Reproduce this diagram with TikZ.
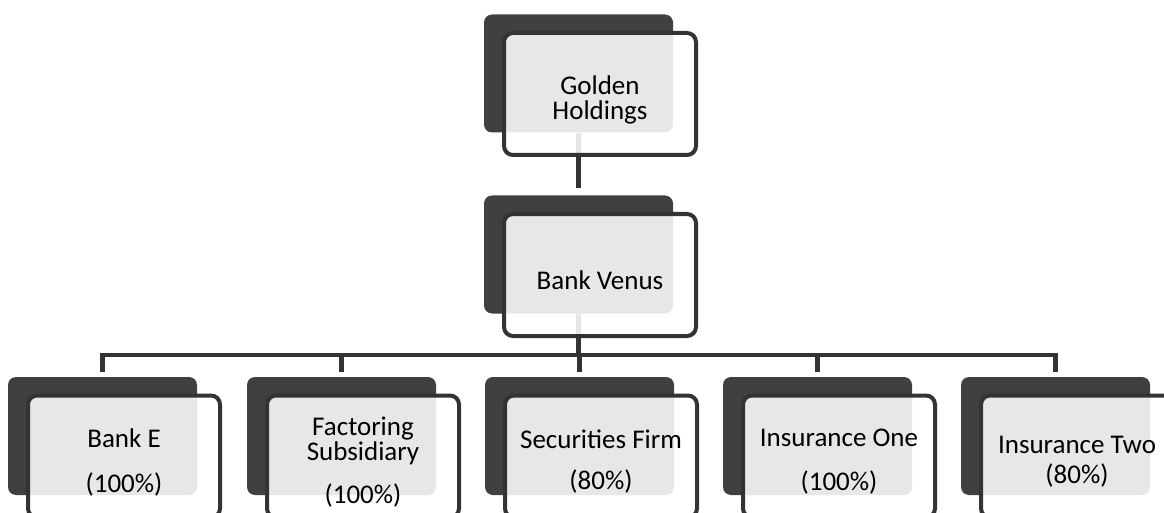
\documentclass[tikz,border=0pt]{standalone}
\usepackage{fontspec}
\setmainfont{Carlito}
\usetikzlibrary{backgrounds}

\definecolor{boxdark}{RGB}{64,64,64}
\definecolor{boxline}{RGB}{51,51,51}

\tikzset{
  backbox/.style={fill=boxdark, rounded corners=8pt, minimum width=189pt, minimum height=118pt, inner sep=0pt},
  frontbox/.style={draw=boxline, line width=4pt, fill=white, fill opacity=0.88,
    rounded corners=9pt, minimum width=192pt, minimum height=122pt, inner sep=0pt},
  unittext/.style={align=center, inner sep=0pt, font=\fontsize{27}{25}\selectfont},
  link/.style={draw=boxline, line width=4.5pt, shorten >=5pt}
}

% one unit: dark card behind, framed card in front, text on top
\newcommand{\orgunit}[4]{%
  \node[backbox]  (#1-back) at (#2,#3) {};
  \node[frontbox] (#1) at ([shift={(21.5,20.5)}]#1-back.center) {};
  \node[unittext] (#1-text) at ([yshift=-5.5pt]#1.center) {#4};}

\begin{document}
\begin{tikzpicture}[x=1pt,y=-1pt]
    \useasboundingbox (0,0) rectangle (1164,513);

    \orgunit{golden}{578.5}{73.5}{Golden\\Holdings}
    \orgunit{venus}{578.5}{254.5}{Bank Venus}

    \orgunit{banke}{102.5}{436}{Bank E\\[20pt](100\%)}
    \orgunit{factoring}{341.5}{436}{Factoring\\Subsidiary\\[18pt](100\%)}
    \orgunit{securities}{579.5}{436}{Securities Firm\\[16pt](80\%)}
    \orgunit{insone}{817.5}{436}{Insurance One\\[19pt](100\%)}
    \orgunit{instwo}{1055.5}{436}{Insurance Two\\[5pt](80\%)}

    \coordinate (bus) at (578.5,355);

    \begin{scope}[on background layer]
      \draw[link, shorten >=7pt] (golden-back.south) -- (venus-back.north);
      \draw[link, shorten >=0pt] (venus-back.south) -- (bus);
      \foreach \unit in {banke,factoring,securities,insone,instwo}
        \draw[link] (bus) -| (\unit-back.north);
    \end{scope}
\end{tikzpicture}
\end{document}
